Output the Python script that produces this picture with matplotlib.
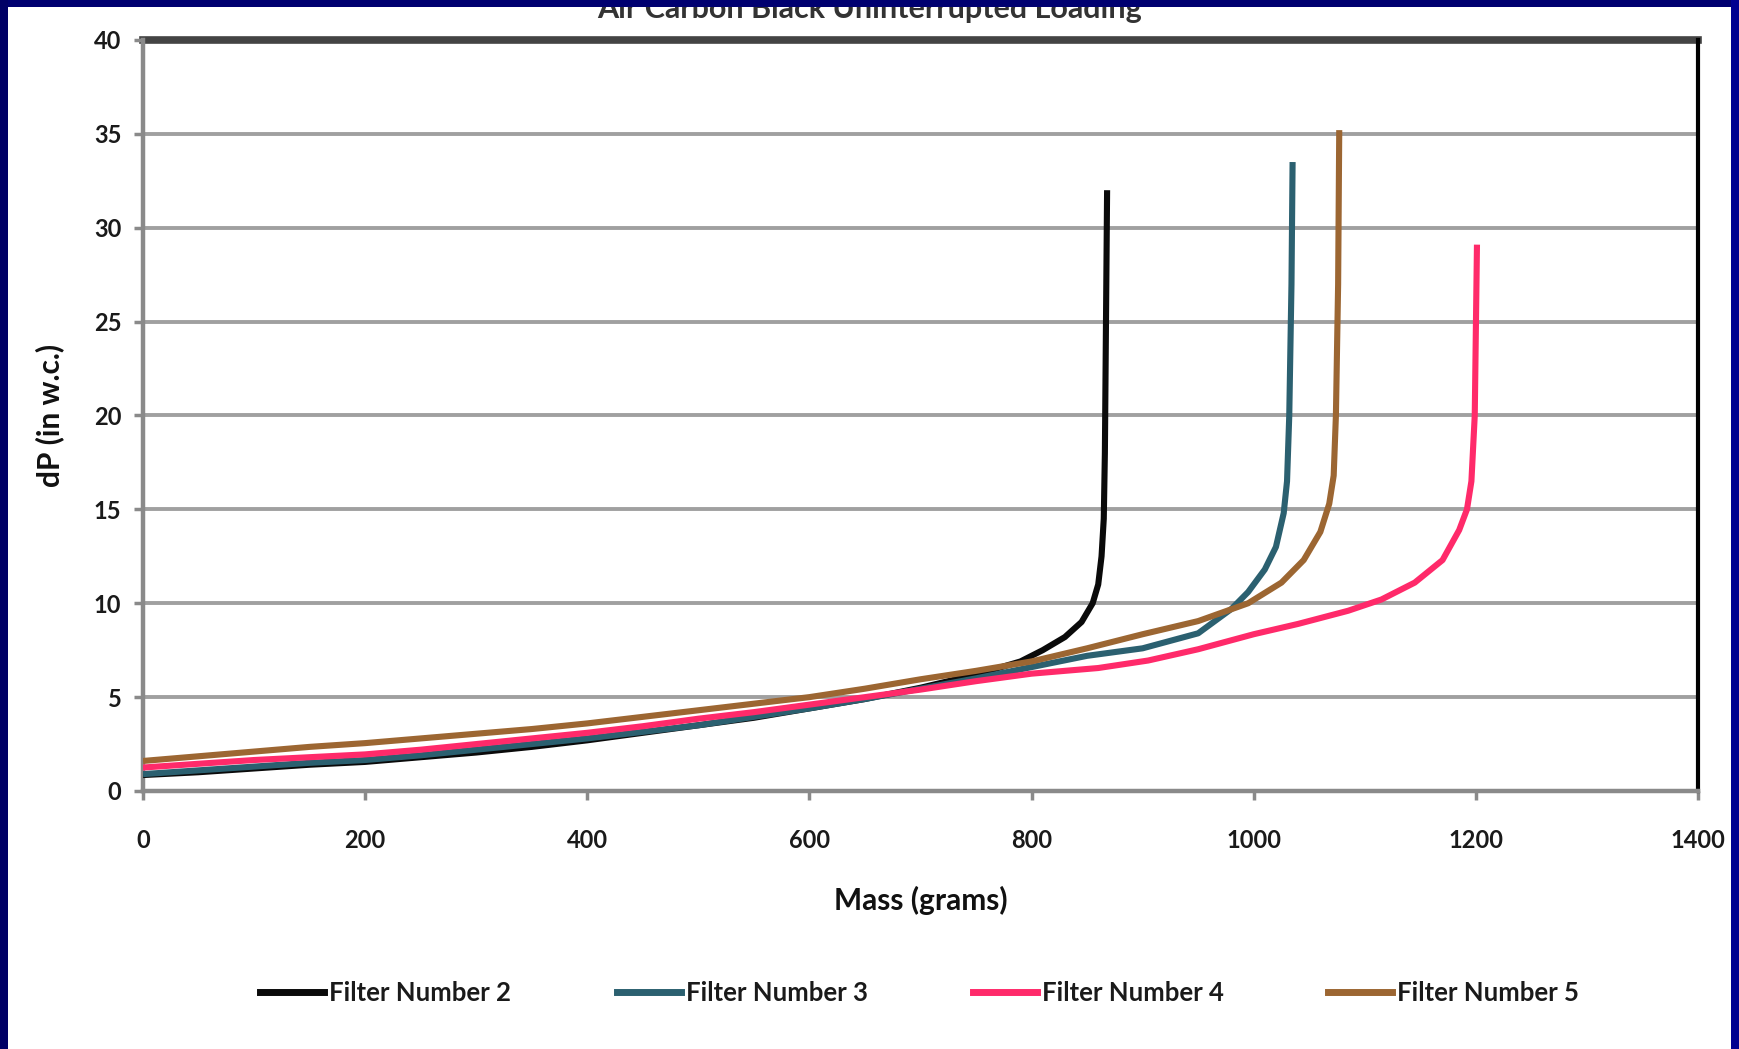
import matplotlib
matplotlib.use("Agg")
import matplotlib.pyplot as plt
from matplotlib.patches import Rectangle
from matplotlib.lines import Line2D

plt.rcParams['font.family'] = ['Lato', 'DejaVu Sans']

title = "Air Carbon Black Uninterrupted Loading"
x_label = "Mass (grams)"
y_label = "dP (in w.c.)"
x_ticks = [0, 200, 400, 600, 800, 1000, 1200, 1400]
y_ticks = [0, 5, 10, 15, 20, 25, 30, 35, 40]

f2_mass = [0, 50, 100, 150, 200, 250, 300, 350, 400, 450, 500, 550, 600, 650, 700, 750,
           790, 810, 830, 845, 855, 860, 863, 865, 866, 867, 868]
f2_dp = [0.85, 1.0, 1.2, 1.4, 1.55, 1.8, 2.05, 2.35, 2.7, 3.1, 3.5, 3.9, 4.4, 4.9, 5.5, 6.2,
         6.9, 7.5, 8.2, 9.0, 10.0, 11.0, 12.5, 14.5, 18, 25, 32]

f3_mass = [0, 50, 100, 150, 200, 250, 300, 350, 400, 450, 500, 550, 600, 650, 700, 750, 800,
           850, 900, 950, 980, 995, 1010, 1020, 1027, 1030, 1032, 1034, 1035]
f3_dp = [0.9, 1.1, 1.3, 1.5, 1.65, 1.9, 2.2, 2.5, 2.8, 3.15, 3.5, 3.95, 4.4, 4.9, 5.45, 6.0, 6.6,
         7.2, 7.6, 8.4, 9.7, 10.6, 11.8, 13.0, 14.8, 16.5, 20, 27, 33.5]

f4_mass = [0, 50, 100, 150, 200, 250, 300, 350, 400, 450, 500, 550, 600, 650, 700, 750, 800,
           860, 905, 950, 1000, 1040, 1085, 1115, 1145, 1170, 1185, 1192, 1196, 1199, 1201]
f4_dp = [1.25, 1.45, 1.65, 1.8, 1.95, 2.2, 2.5, 2.8, 3.1, 3.45, 3.85, 4.2, 4.6, 5.0, 5.4, 5.85, 6.25,
         6.55, 6.95, 7.55, 8.35, 8.9, 9.6, 10.2, 11.1, 12.3, 13.9, 15.0, 16.5, 20, 29.1]

f5_mass = [0, 50, 100, 150, 200, 250, 300, 350, 400, 450, 500, 550, 600, 650, 700, 750, 800,
           850, 900, 950, 995, 1025, 1045, 1060, 1068, 1072, 1074, 1076, 1077]
f5_dp = [1.6, 1.85, 2.1, 2.35, 2.55, 2.8, 3.05, 3.3, 3.6, 3.95, 4.3, 4.65, 5.0, 5.45, 5.95, 6.4, 6.9,
         7.6, 8.35, 9.05, 10.0, 11.1, 12.3, 13.8, 15.3, 16.8, 20, 27, 35.2]

series_names = ["Filter Number 2", "Filter Number 3", "Filter Number 4", "Filter Number 5"]
series_colors = ["#0a0a0a", "#2b6070", "#ff2a6a", "#9c6632"]

W, H = 1740, 1049
fig = plt.figure(figsize=(W / 100, H / 100), dpi=100)
fig.patch.set_facecolor("white")

ax_l, ax_r, ax_t, ax_b = 143, 1698, 40, 791
ax = fig.add_axes([ax_l / W, 1 - ax_b / H, (ax_r - ax_l) / W, (ax_b - ax_t) / H])

ax.set_xlim(0, 1400)
ax.set_ylim(0, 40)
ax.set_xticks(x_ticks)
ax.set_yticks(y_ticks)
ax.set_xticklabels([str(v) for v in x_ticks])
ax.set_yticklabels([str(v) for v in y_ticks])

for v in y_ticks[1:-1]:
    ax.axhline(v, color="#a0a0a0", lw=2.8, zorder=1)
ax.axhline(40, color="#444444", lw=5.5, zorder=1, clip_on=False)

for s in ["left", "bottom"]:
    ax.spines[s].set_color("#8a8a8a")
    ax.spines[s].set_linewidth(3.2)
ax.spines["top"].set_visible(False)
ax.spines["right"].set_color("#000000")
ax.spines["right"].set_linewidth(3.0)

ax.tick_params(axis="both", direction="out", length=6.5, width=2.5, color="#8a8a8a",
               labelsize=17, labelcolor="#1a1a1a")
ax.tick_params(axis="y", pad=9)
ax.tick_params(axis="x", pad=21)
for lab in ax.get_xticklabels() + ax.get_yticklabels():
    lab.set_fontweight("bold")

data = [(f2_mass, f2_dp), (f3_mass, f3_dp), (f4_mass, f4_dp), (f5_mass, f5_dp)]
lines = []
for (m, d), name, c in zip(data, series_names, series_colors):
    ln, = ax.plot(m, d, color=c, lw=4.4, label=name, zorder=3, solid_capstyle="butt")
    lines.append(ln)

ax.set_xlabel(x_label, fontsize=21.5, fontweight="bold", va="center", color="#111111")
ax.xaxis.set_label_coords(0.5, (ax_b - 900) / (ax_b - ax_t))
ax.set_ylabel(y_label, fontsize=21.5, fontweight="bold", va="center", color="#111111")
ax.yaxis.set_label_coords((50 - ax_l) / (ax_r - ax_l), 0.5)

# legend entries
leg_x = [260, 617, 973, 1328]
leg_y = 993
for ln, lx in zip(lines, leg_x):
    h = Line2D([], [], color=ln.get_color(), lw=5.0)
    fig.legend([h], [ln.get_label()], loc="center left",
               bbox_to_anchor=(lx / W, 1 - leg_y / H), frameon=False,
               borderpad=0, borderaxespad=0, handlelength=2.5, handletextpad=0.2,
               prop={"size": 18.5, "weight": "bold"}, labelcolor="#1a1a1a")

# title (partly hidden under top border)
fig.text(870 / W, 1 - 18 / H, title, ha="center", va="baseline", fontsize=22,
         fontweight="bold", color="#333333", zorder=2)

# navy frame
fig.add_artist(Rectangle((0, 1 - 7 / H), 1, 7 / H, transform=fig.transFigure,
                         facecolor="#000070", edgecolor="none", zorder=20))
fig.add_artist(Rectangle((0, 0), 8 / W, 1, transform=fig.transFigure,
                         facecolor="#000066", edgecolor="none", zorder=20))
fig.add_artist(Rectangle((1 - 9 / W, 0), 9 / W, 1, transform=fig.transFigure,
                         facecolor="#000090", edgecolor="none", zorder=20))

fig.savefig("out.png", dpi=100, facecolor="white")
